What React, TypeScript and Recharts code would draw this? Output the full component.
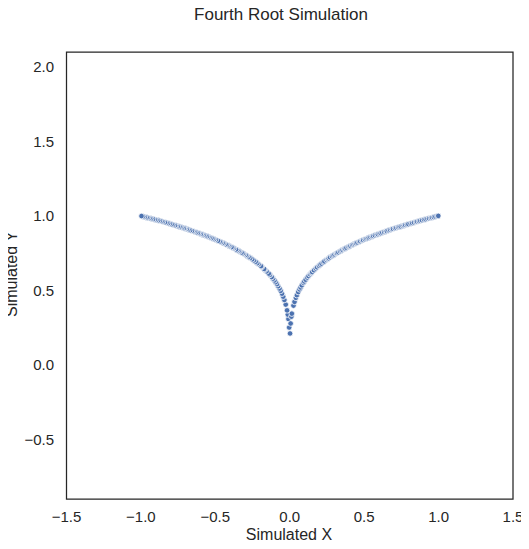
import { ReferenceArea, Scatter, ScatterChart, XAxis, YAxis } from "recharts";

// right branch (x > 0)
const rightX = [
  0.002, 0.006, 0.011, 0.014, 0.025, 0.032, 0.041, 0.048, 0.057, 0.066, 0.073, 0.081, 0.092, 0.098,
  0.107, 0.118, 0.126, 0.137, 0.145, 0.151, 0.163, 0.175, 0.184, 0.196, 0.205, 0.214, 0.226, 0.233,
  0.247, 0.256, 0.262, 0.271, 0.284, 0.293, 0.301, 0.312, 0.318, 0.327, 0.339, 0.348, 0.355, 0.366,
  0.372, 0.381, 0.394, 0.402, 0.408, 0.419, 0.428, 0.437, 0.446, 0.455, 0.467, 0.474, 0.486, 0.493,
  0.505, 0.514, 0.523, 0.531, 0.542, 0.553, 0.561, 0.572, 0.584, 0.592, 0.603, 0.611, 0.622, 0.634,
  0.645, 0.652, 0.664, 0.675, 0.686, 0.694, 0.707, 0.716, 0.728, 0.737, 0.746, 0.758, 0.767, 0.776,
  0.788, 0.797, 0.812, 0.823, 0.835, 0.848, 0.856, 0.868, 0.877, 0.889, 0.902, 0.913, 0.925, 0.936,
  0.948, 0.957, 0.968, 0.979, 0.992, 0.998,
];
const rightY = [
  0.211, 0.278, 0.324, 0.344, 0.398, 0.423, 0.45, 0.468, 0.489, 0.507, 0.52, 0.534, 0.551, 0.56,
  0.572, 0.586, 0.596, 0.608, 0.617, 0.623, 0.635, 0.647, 0.655, 0.665, 0.673, 0.68, 0.689, 0.695,
  0.705, 0.711, 0.715, 0.722, 0.73, 0.736, 0.741, 0.747, 0.751, 0.756, 0.763, 0.768, 0.772, 0.778,
  0.781, 0.786, 0.792, 0.796, 0.799, 0.805, 0.809, 0.813, 0.817, 0.821, 0.827, 0.83, 0.835, 0.838,
  0.843, 0.847, 0.85, 0.854, 0.858, 0.862, 0.865, 0.87, 0.874, 0.877, 0.881, 0.884, 0.888, 0.892,
  0.896, 0.899, 0.903, 0.906, 0.91, 0.913, 0.917, 0.92, 0.924, 0.927, 0.929, 0.933, 0.936, 0.939,
  0.942, 0.945, 0.949, 0.952, 0.956, 0.96, 0.962, 0.965, 0.968, 0.971, 0.975, 0.977, 0.981, 0.984,
  0.987, 0.989, 0.992, 0.995, 0.998, 1.0,
];

// left branch (x < 0)
const leftX = [
  -0.004, -0.009, -0.013, -0.018, -0.027, -0.036, -0.044, -0.052, -0.061, -0.069, -0.078, -0.086,
  -0.095, -0.103, -0.112, -0.121, -0.133, -0.141, -0.156, -0.167, -0.172, -0.188, -0.193, -0.209,
  -0.218, -0.229, -0.241, -0.252, -0.265, -0.277, -0.288, -0.296, -0.307, -0.315, -0.324, -0.336,
  -0.343, -0.352, -0.361, -0.375, -0.384, -0.391, -0.405, -0.413, -0.422, -0.431, -0.443, -0.451,
  -0.462, -0.471, -0.482, -0.497, -0.508, -0.517, -0.526, -0.538, -0.547, -0.556, -0.567, -0.578,
  -0.588, -0.597, -0.608, -0.617, -0.628, -0.639, -0.648, -0.657, -0.669, -0.681, -0.692, -0.703,
  -0.711, -0.722, -0.733, -0.741, -0.752, -0.763, -0.771, -0.783, -0.794, -0.806, -0.817, -0.828,
  -0.839, -0.852, -0.862, -0.873, -0.884, -0.896, -0.907, -0.918, -0.931, -0.942, -0.953, -0.962,
  -0.974, -0.985, -0.996,
];
const leftY = [
  0.251, 0.308, 0.338, 0.366, 0.405, 0.436, 0.458, 0.478, 0.497, 0.513, 0.528, 0.542,
  0.555, 0.567, 0.579, 0.59, 0.604, 0.613, 0.628, 0.639, 0.644, 0.658, 0.663, 0.676,
  0.683, 0.692, 0.701, 0.709, 0.718, 0.725, 0.733, 0.738, 0.744, 0.749, 0.754, 0.761,
  0.765, 0.77, 0.775, 0.783, 0.787, 0.791, 0.798, 0.802, 0.806, 0.81, 0.816, 0.819,
  0.824, 0.828, 0.833, 0.84, 0.844, 0.848, 0.852, 0.856, 0.86, 0.864, 0.868, 0.872,
  0.876, 0.879, 0.883, 0.886, 0.89, 0.894, 0.897, 0.9, 0.904, 0.908, 0.912, 0.916,
  0.918, 0.922, 0.925, 0.928, 0.931, 0.935, 0.937, 0.941, 0.944, 0.948, 0.951, 0.954,
  0.957, 0.961, 0.964, 0.967, 0.97, 0.973, 0.976, 0.979, 0.982, 0.985, 0.988, 0.99,
  0.993, 0.996, 0.999,
];

const xTicks = [-1.5, -1.0, -0.5, 0.0, 0.5, 1.0, 1.5];
const yTicks = [-0.5, 0.0, 0.5, 1.0, 1.5, 2.0];

const points = [
  ...leftX.map((x, i) => ({ x, y: leftY[i] })),
  ...rightX.map((x, i) => ({ x, y: rightY[i] })),
];

const FONT = "'Liberation Sans', Arial, sans-serif";
const INK = "#262626";

const fmt = (v: number) => (v < 0 ? "\u2212" : "") + Math.abs(v).toFixed(1);

const Dot = (props: any) => {
  const { cx, cy } = props;
  if (cx == null || cy == null) return null;
  return <circle cx={cx} cy={cy} r={2.8} fill="#4C72B0" stroke="#fff" strokeWidth={0.8} />;
};

export default function App() {
  return (
    <div style={{ position: "relative", width: 521, height: 541, fontFamily: FONT }}>
      <ScatterChart width={521} height={541} margin={{ top: 44, right: 16, bottom: 0, left: 0 }}>
        <XAxis
          type="number"
          dataKey="x"
          domain={[-1.5, 1.5]}
          ticks={xTicks}
          allowDataOverflow
          height={50}
          axisLine={false}
          tickLine={false}
          tickSize={0}
          tickMargin={12.5}
          tickFormatter={fmt}
          tick={{ fontSize: 15, fill: INK, fontFamily: FONT }}
        />
        <YAxis
          type="number"
          dataKey="y"
          domain={[-0.9, 2.1]}
          ticks={yTicks}
          allowDataOverflow
          width={58.5}
          axisLine={false}
          tickLine={false}
          tickSize={0}
          tickMargin={12.5}
          tickFormatter={fmt}
          tick={{ fontSize: 15, fill: INK, fontFamily: FONT }}
        />
        <Scatter data={points} shape={Dot} isAnimationActive={false} />
        <ReferenceArea
          x1={-1.5}
          x2={1.5}
          y1={-0.9}
          y2={2.1}
          fill="none"
          fillOpacity={0}
          stroke={INK}
          strokeWidth={1.25}
          ifOverflow="visible"
        />
      </ScatterChart>
      <svg
        width={529}
        height={549}
        viewBox="-8 -8 529 549"
        style={{ position: "absolute", left: -8, top: -8, pointerEvents: "none", overflow: "visible" }}
      >
        <text x={273} y={11.5} textAnchor="middle" fontSize={17} fill={INK} fontFamily={FONT}>
          Fourth Root Simulation
        </text>
        <text x={281} y={532} textAnchor="middle" fontSize={16} fill={INK} fontFamily={FONT}>
          Simulated X
        </text>
        <text
          x={9}
          y={266}
          textAnchor="middle"
          fontSize={16}
          fill={INK}
          fontFamily={FONT}
          transform="rotate(-90, 9, 266)"
        >
          Simulated Y
        </text>
      </svg>
    </div>
  );
}
